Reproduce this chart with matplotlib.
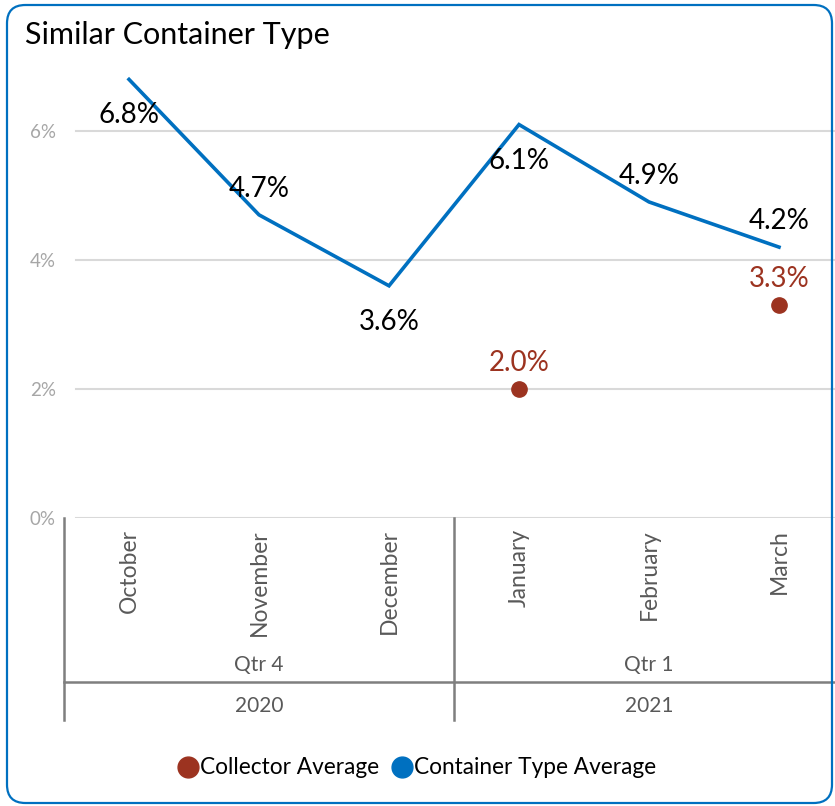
import numpy as np
import matplotlib
matplotlib.use('Agg')
import matplotlib.pyplot as plt
from matplotlib.lines import Line2D
from matplotlib.patches import FancyBboxPatch
from matplotlib.transforms import blended_transform_factory

plt.rcParams['font.family'] = ['Lato', 'DejaVu Sans']

# --- data ---
months = ['October', 'November', 'December', 'January', 'February', 'March']
quarters = ['Qtr 4', 'Qtr 1']
years = ['2020', '2021']
container_avg = [6.8, 4.7, 3.6, 6.1, 4.9, 4.2]
collector_avg = [np.nan, np.nan, np.nan, 2.0, np.nan, 3.3]
# label above (+) or below (-) the point, as in the original chart
container_lbl_pos = [-1, 1, -1, -1, 1, 1]

BLUE = '#0070C0'
RED = '#9C3320'
GRAY = '#7F7F7F'
W, H = 835, 806

fig = plt.figure(figsize=(W / 100, H / 100), dpi=100)

def fy(px):
    return 1 - px / H

ax = fig.add_axes([64 / W, fy(518), (835 - 64) / W, (518 - 53.6) / H])
x = np.arange(len(months))
ax.set_xlim(-0.5, -0.5 + (835 - 64) / 130)
ax.set_ylim(0, 7.2)

for s in ax.spines.values():
    s.set_visible(False)

for v in [0, 2, 4, 6]:
    ax.axhline(v, xmin=12 / 771, color='#D9D9D9', lw=1.5, zorder=0)

ax.set_yticks([0, 2, 4, 6])
ax.set_yticklabels([f'{v}%' for v in [0, 2, 4, 6]])
ax.tick_params(axis='y', length=0, pad=6, labelsize=13.5, labelcolor='#A6A6A6')
ax.set_xticks(x)
ax.set_xticklabels(months, rotation=90, va='top', ha='center')
ax.tick_params(axis='x', length=0, pad=8, labelsize=16.5, labelcolor='#595959')

ax.plot(x, container_avg, color=BLUE, lw=2.6, solid_joinstyle='miter', zorder=3)
ax.plot(x, collector_avg, 'o', color=RED, ms=11, zorder=4)

for xi, v, p in zip(x, container_avg, container_lbl_pos):
    off = 26 if p > 0 else -36
    ax.annotate(f'{v:.1f}%', (xi, v), xytext=(0, off), textcoords='offset pixels',
                ha='center', va='center', fontsize=20, color='black', zorder=5)
for xi, v in zip(x, collector_avg):
    if not np.isnan(v):
        ax.annotate(f'{v:.1f}%', (xi, v), xytext=(0, 26), textcoords='offset pixels',
                    ha='center', va='center', fontsize=20, color=RED, zorder=5)

# multi-level category axis
tr = blended_transform_factory(ax.transData, fig.transFigure)
for xv in [-0.5, 2.5]:
    ax.add_line(Line2D([xv, xv], [fy(518), fy(720)], transform=tr, color=GRAY,
                       lw=1.8, clip_on=False))
ax.add_line(Line2D([-0.5, 6], [fy(682), fy(682)], transform=tr, color=GRAY,
                   lw=1.8, clip_on=False))
for i, (q, yr) in enumerate(zip(quarters, years)):
    xc = 3 * i + 1
    ax.text(xc, fy(665), q, transform=tr, ha='center', va='center', fontsize=15,
            color='#595959')
    ax.text(xc, fy(706), yr, transform=tr, ha='center', va='center', fontsize=15,
            color='#595959')

fig.text(25 / W, fy(35), 'Similar Container Type', ha='left', va='center',
         fontsize=22, color='black')

handles = [Line2D([], [], ls='', marker='o', ms=15, color=RED),
           Line2D([], [], ls='', marker='o', ms=15, color=BLUE)]
fig.legend(handles, ['Collector Average', 'Container Type Average'],
           loc='center', bbox_to_anchor=(0.5, fy(768)), ncol=2, frameon=False,
           fontsize=16.3, handlelength=0.8, handletextpad=0.15, columnspacing=0.6)

border = FancyBboxPatch((7 / W, fy(803)), (832 - 7) / W, (803 - 5) / H,
                        boxstyle='round,pad=0,rounding_size=0.022',
                        mutation_aspect=W / H, transform=fig.transFigure,
                        fill=False, ec=BLUE, lw=1.6)
fig.add_artist(border)

fig.savefig('out.png', dpi=100)
